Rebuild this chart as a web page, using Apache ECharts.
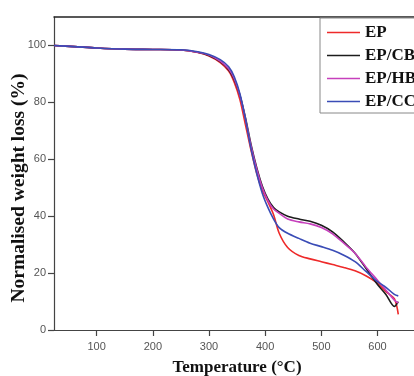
<!DOCTYPE html>
<html>
<head>
<meta charset="utf-8">
<script src="https://cdn.jsdelivr.net/npm/echarts@6/dist/echarts.min.js"></script>
<style>
  html, body { margin: 0; padding: 0; background: #fff; }
  #chart { width: 414px; height: 376px; }
</style>
</head>
<body>
<div id="chart"></div>
<script>
// Temperature grid (°C) shared by all TGA curves
const temperature = [24, 60, 100, 150, 200, 250, 280, 300, 320, 335, 345, 355, 365, 375, 385, 395, 405, 415, 425, 440, 460, 480, 500, 520, 540, 560, 580, 600, 615, 630, 637];

// Normalised weight loss (%) for each sample
const epValues   = [100, 99.6, 99.1, 98.7, 98.6, 98.4, 97.5, 96.3, 94.0, 91.0, 87.0, 81.0, 72.0, 63.0, 55.0, 49.0, 45.0, 40.5, 34.0, 29.0, 26.2, 25.0, 24.0, 23.0, 22.0, 20.8, 19.0, 16.5, 13.5, 11.0, 5.5];
const epCbValues = [100, 99.6, 99.1, 98.7, 98.6, 98.4, 97.6, 96.5, 94.3, 91.5, 88.0, 82.5, 74.5, 65.0, 57.0, 50.5, 46.0, 43.0, 41.5, 40.0, 39.0, 38.2, 36.8, 34.5, 31.0, 27.0, 21.5, 16.0, 12.5, 8.3, 10.0];
const epHbValues = [100, 99.6, 99.1, 98.7, 98.6, 98.4, 97.6, 96.6, 94.5, 91.8, 88.3, 82.5, 74.0, 64.5, 56.5, 50.0, 45.5, 42.5, 41.0, 39.0, 38.0, 37.3, 36.0, 33.8, 30.5, 27.0, 22.0, 17.5, 14.0, 10.5, 9.5];
const epCcValues = [100, 99.6, 99.1, 98.7, 98.6, 98.5, 97.8, 96.8, 95.0, 92.5, 89.0, 83.0, 74.0, 63.5, 55.0, 48.0, 43.0, 39.0, 36.0, 34.0, 32.2, 30.5, 29.3, 28.0, 26.3, 24.0, 20.5, 17.0, 15.0, 12.5, 12.0];

// Axis tick labels
const xTicks = [100, 200, 300, 400, 500, 600];
const yTicks = [0, 20, 40, 60, 80, 100];

const seriesNames  = ['EP', 'EP/CB', 'EP/HB', 'EP/CC'];
const seriesValues = [epValues, epCbValues, epHbValues, epCcValues];
const seriesColors = ['#ee2a2a', '#1c1c1c', '#c640bc', '#3a4cb6'];

const pairs = vals => temperature.map((t, i) => [t, vals[i]]);

const chart = echarts.init(document.getElementById('chart'), null, { renderer: 'canvas' });

const serif = '"Liberation Serif", "Times New Roman", serif';
const tickFont = { fontFamily: '"Liberation Sans Narrow", "Liberation Sans", Arial, sans-serif', fontSize: 11, color: '#555' };
const axisLineStyle = { color: '#444', width: 1.2 };

chart.setOption({
  animation: false,
  backgroundColor: '#fff',
  grid: { left: 54, right: 0, top: 17, bottom: 46, containLabel: false, outerBoundsMode: 'none' },
  legend: {
    orient: 'vertical',
    left: 320, top: 18,
    padding: [6, 60, 3, 7],
    icon: 'rect',
    itemWidth: 33, itemHeight: 1.6, itemGap: 6,
    backgroundColor: '#fff',
    borderColor: '#888', borderWidth: 1,
    textStyle: { fontFamily: serif, fontWeight: 'bold', fontSize: 17, color: '#111' },
    data: seriesNames
  },
  // vertical axis title, placed by hand beside the y axis
  graphic: [{
    type: 'text',
    x: 19, y: 188,
    rotation: Math.PI / 2,
    style: {
      text: 'Normalised weight loss (%)',
      font: 'bold 19.5px "Liberation Serif", "Times New Roman", serif',
      fill: '#111',
      align: 'center',
      verticalAlign: 'middle'
    }
  }],
  xAxis: [{
    type: 'value', min: 24, max: 665,
    name: 'Temperature (°C)', nameLocation: 'middle', nameGap: 29,
    nameTextStyle: { fontFamily: serif, fontWeight: 'bold', fontSize: 17, color: '#111', padding: [0, 0, 0, 6] },
    axisLine: { lineStyle: axisLineStyle },
    axisTick: { customValues: xTicks, length: 6, lineStyle: axisLineStyle },
    axisLabel: Object.assign({ customValues: xTicks, margin: 11 }, tickFont),
    splitLine: { show: false }
  }, {
    type: 'value', min: 24, max: 665, position: 'top',
    axisLine: { show: true, onZero: false, lineStyle: { color: '#222', width: 1.5 } },
    axisTick: { show: false }, axisLabel: { show: false }, splitLine: { show: false }
  }],
  yAxis: {
    type: 'value', min: 0, max: 110,
    axisLine: { show: true, lineStyle: axisLineStyle },
    axisTick: { show: true, customValues: yTicks, length: 6, lineStyle: axisLineStyle },
    axisLabel: Object.assign({ customValues: yTicks, margin: 8 }, tickFont),
    splitLine: { show: false }
  },
  series: seriesNames.map((name, i) => ({
    name, type: 'line', xAxisIndex: 0,
    data: pairs(seriesValues[i]),
    smooth: 0.3,
    symbol: 'none',
    lineStyle: { color: seriesColors[i], width: 1.6 },
    itemStyle: { color: seriesColors[i] },
    z: 2 + i
  }))
});
</script>
</body>
</html>
